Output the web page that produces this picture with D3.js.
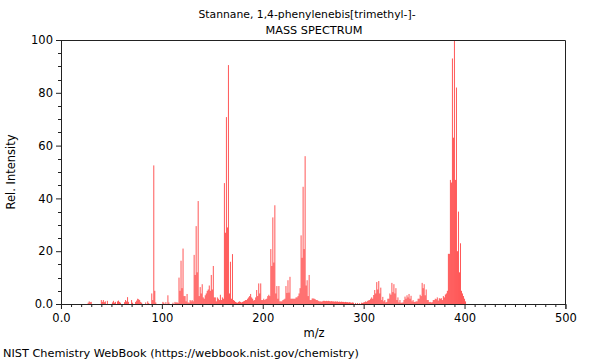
<!DOCTYPE html>
<html>
<head>
<meta charset="utf-8">
<script src="https://cdn.jsdelivr.net/npm/d3@7/dist/d3.min.js"></script>
<style>
  html, body { margin: 0; padding: 0; background: #fff; }
  svg { display: block; font-family: "DejaVu Sans", sans-serif; }
</style>
</head>
<body>
<svg id="chart" width="600" height="360"></svg>
<script>
const titleLines = ["Stannane, 1,4-phenylenebis[trimethyl-]-", "MASS SPECTRUM"];
const xLabel = "m/z";
const yLabel = "Rel. Intensity";
const footer = "NIST Chemistry WebBook (https://webbook.nist.gov/chemistry)";
const xTicks = [0, 100, 200, 300, 400, 500];
const xTickLabels = ["0.0", "100", "200", "300", "400", "500"];
const yTicks = [0, 20, 40, 60, 80, 100];
const yTickLabels = ["0.0", "20", "40", "60", "80", "100"];

const mz = [
  26, 27, 28, 29, 39, 40, 41, 42, 43, 45, 50, 51, 52, 53, 55, 56, 57, 58,
  62, 63, 64, 65, 66, 69, 70, 73, 74, 75, 76, 77, 78, 79, 83, 85, 86,
  89, 90, 91, 92, 93, 100, 101, 103, 105, 106, 110, 112, 113, 114,
  115, 116, 117, 118, 119, 120, 121, 122, 123, 124, 125, 126, 127, 128, 129, 130,
  131, 132, 133, 134, 135, 136, 137, 138, 139, 140,
  141, 142, 143, 144, 145, 146, 147, 148, 149, 150, 151, 152, 153, 154, 155, 156, 157, 158, 159, 160,
  161, 162, 163, 164, 165, 166, 167, 168, 169, 170, 171, 172, 173, 174, 175, 176, 177, 178, 179, 180,
  181, 182, 183, 184, 185, 186, 187, 188, 189, 190, 191, 192, 193, 194, 195, 196, 197, 198, 199, 200,
  201, 202, 203, 204, 205, 206, 207, 208, 209, 210, 211, 212, 213, 214, 215, 216, 217, 218, 219, 220,
  221, 222, 223, 224, 225, 226, 227, 228, 229, 230, 231, 232, 233, 234, 235, 236,
  237, 238, 239, 240, 241, 242, 243, 244, 245, 246, 247, 248, 249, 250, 251, 252, 253, 254,
  255, 256, 257, 258, 259, 260, 261, 262, 263, 264, 265, 266, 267, 268, 269, 270,
  271, 272, 273, 274, 275, 276, 277, 278, 279, 280, 281, 282, 283, 284, 285, 286, 287, 288, 289,
  291, 293, 295, 297, 298, 299, 300, 301, 302, 303, 304, 305, 306, 307,
  308, 309, 310, 311, 312, 313, 314, 315, 316, 317, 318, 319, 320, 321, 322, 323, 324, 325,
  326, 327, 328, 329, 330, 331, 332, 333, 334, 335, 336, 337, 338, 339, 340, 341, 342, 343,
  344, 345, 346, 347, 348, 349, 350, 351, 352, 353, 354, 355, 356, 357, 358, 359, 360, 361,
  362, 363, 364, 365, 366, 367, 368, 369, 370, 371, 372, 373, 374, 375, 376, 377, 378, 379,
  380, 381, 382, 383, 384, 385, 386, 387, 388, 389, 390, 391, 392, 393, 394, 395, 396, 397,
  398, 399, 400
];
const intensity = [
  0.5, 1.0, 0.7, 0.8, 1.5, 0.8, 1.5, 0.7, 1.0, 1.2, 0.6, 1.2, 0.5, 0.8, 1.0, 1.3, 0.8, 0.5,
  0.7, 1.5, 1.0, 2.6, 0.8, 1.5, 0.5, 0.8, 1.3, 2.0, 1.8, 1.5, 0.8, 0.5, 0.6, 1.0, 0.4,
  4.0, 1.5, 52.5, 5.0, 0.6, 0.8, 0.5, 0.7, 3.3, 0.6, 0.5, 0.8, 0.5, 0.7,
  0.4, 10.0, 5.0, 16.4, 6.0, 21.0, 3.0, 3.0, 1.0, 3.8, 0.6, 0.5, 1.5, 1.0, 1.5, 1.0,
  18.6, 11.0, 29.5, 12.0, 39.0, 3.0, 6.4, 4.0, 7.5, 2.5,
  2.0, 3.3, 4.0, 5.0, 5.5, 7.0, 5.0, 11.0, 5.5, 14.4, 2.5, 2.5, 1.0, 2.5, 2.0, 1.5, 3.5, 1.5, 2.5, 2.0,
  45.8, 27.0, 70.8, 29.0, 90.5, 4.0, 16.0, 2.0, 18.9, 1.5, 1.2, 0.8, 0.6, 0.5, 0.8, 1.0, 0.8, 0.6, 0.8, 1.0,
  1.2, 1.5, 1.5, 2.0, 2.5, 3.0, 3.8, 2.5, 2.0, 1.3, 1.5, 2.5, 5.3, 3.0, 7.8, 4.0, 7.8, 1.5, 1.5, 2.0,
  1.5, 1.8, 2.0, 3.0, 3.5, 3.0, 20.8, 14.4, 32.8, 15.7, 37.4, 4.0, 6.8, 2.0, 6.8, 1.0, 1.0, 1.0, 1.5, 1.7,
  2.0, 6.8, 4.2, 9.0, 4.3, 10.3, 2.0, 2.0, 2.0, 2.0, 2.0, 2.5, 2.5, 3.0, 4.0, 6.0,
  26.0, 17.5, 44.4, 20.8, 56.0, 7.0, 9.0, 3.0, 11.0, 1.5, 1.5, 2.1, 2.1, 2.0, 1.8, 1.5, 1.5, 1.2,
  1.0, 1.0, 0.9, 1.0, 1.2, 1.2, 1.1, 1.2, 1.1, 1.2, 1.1, 1.0, 1.1, 1.0, 1.0, 0.9,
  1.0, 0.9, 1.0, 0.8, 0.9, 0.8, 0.9, 0.8, 0.8, 0.7, 0.8, 0.7, 0.7, 0.6, 0.7, 0.6, 0.5, 0.6, 0.5,
  0.4, 0.4, 0.3, 0.5, 0.4, 0.6, 0.7, 1.0, 0.8, 1.2, 1.4, 1.5, 2.0, 2.5,
  2.0, 3.4, 5.3, 4.0, 8.3, 5.5, 8.7, 4.0, 6.2, 1.5, 2.7, 1.0, 1.5, 0.6, 0.8, 2.0, 2.0, 4.0,
  3.5, 8.0, 4.5, 7.5, 4.0, 6.0, 1.5, 2.5, 0.6, 1.5, 0.5, 0.5, 0.6, 1.5, 2.8, 2.0, 3.3, 2.5,
  3.8, 2.0, 3.1, 1.0, 1.5, 0.8, 0.8, 1.0, 1.0, 2.0, 2.0, 3.5, 3.0, 8.0, 6.0, 7.5, 3.3, 5.5,
  1.5, 1.5, 0.7, 0.8, 0.6, 0.7, 1.5, 1.5, 2.0, 1.8, 2.5, 1.3, 2.2, 2.0, 2.2, 1.5, 3.0, 2.5,
  3.6, 4.0, 5.0, 19.0, 19.0, 47.0, 46.0, 93.0, 63.0, 100.0, 47.0, 82.0, 20.0, 35.0, 12.0, 23.0, 5.0, 4.0,
  3.0, 2.0, 1.0
];

const W = 600, H = 360;
const margin = { left: 61.47, right: 600 - 565.93, top: 40, bottom: 360 - 304 };
const svg = d3.select("#chart");

const x = d3.scaleLinear().domain([0, 500]).range([margin.left, W - margin.right]);
const y = d3.scaleLinear().domain([0, 100]).range([H - margin.bottom, margin.top]);

const peaks = mz.map((m, i) => ({ m, v: intensity[i] }));

// peaks
svg.append("g")
  .selectAll("rect")
  .data(peaks)
  .join("rect")
  .attr("x", d => x(d.m))
  .attr("width", 1)
  .attr("y", d => y(d.v))
  .attr("height", d => y(0) - y(d.v))
  .attr("fill", "#ff0000")
  .attr("fill-opacity", 0.66);

// frame top and right
const x0 = Math.round(x(0)) + 0.5 - 1, x1 = Math.round(x(500)) + 0.5 - 1;
const yTop = Math.round(y(100)) + 0.5, yBot = Math.round(y(0)) + 0.5;
svg.append("path")
  .attr("d", `M${x0},${yTop}H${x1}V${yBot}`)
  .attr("fill", "none").attr("stroke", "#222").attr("stroke-width", 1);

// axes
const xAxisMajor = d3.axisBottom(x).tickValues(xTicks).tickSize(5)
  .tickFormat((d, i) => xTickLabels[i]);
const xMinor = d3.range(0, 501, 10).filter(v => v % 100 !== 0);
const gx = svg.append("g").attr("transform", `translate(-0.5,${yBot - 0.5})`);
gx.call(xAxisMajor);
gx.selectAll(".tick text").attr("dy", "0.85em");
gx.append("g").selectAll("line").data(xMinor).join("line")
  .attr("x1", d => x(d) ).attr("x2", d => x(d)).attr("y1", 0).attr("y2", 3)
  .attr("stroke", "#222").attr("transform", "translate(0.5,0)");

const yAxisMajor = d3.axisLeft(y).tickValues(yTicks).tickSize(5)
  .tickFormat((d, i) => yTickLabels[i]);
const yMinor = d3.range(0, 101, 5).filter(v => v % 20 !== 0);
const gy = svg.append("g").attr("transform", `translate(${x0 + 0.5},0)`);
gy.call(yAxisMajor);
gy.append("g").selectAll("line").data(yMinor).join("line")
  .attr("x1", -3).attr("x2", 0)
  .attr("y1", d => Math.round(y(d)) + 0.5).attr("y2", d => Math.round(y(d)) + 0.5)
  .attr("stroke", "#222");

svg.selectAll(".domain").attr("stroke", "#222");
svg.selectAll(".tick line").attr("stroke", "#222");
svg.selectAll(".tick text").attr("font-size", 11.5).attr("fill", "#000")
  .attr("font-family", "DejaVu Sans, sans-serif");

// titles
svg.append("text").attr("x", 307).attr("y", 18).attr("text-anchor", "middle")
  .attr("font-size", 10.8).text(titleLines[0]);
svg.append("text").attr("x", 314).attr("y", 34).attr("text-anchor", "middle")
  .attr("font-size", 11.3).text(titleLines[1]);

svg.append("text").attr("x", 314).attr("y", 337).attr("text-anchor", "middle")
  .attr("font-size", 11.5).text(xLabel);
svg.append("text").attr("transform", "translate(15,172) rotate(-90)")
  .attr("text-anchor", "middle").attr("font-size", 11.5).text(yLabel);
svg.append("text").attr("x", 3).attr("y", 357).attr("font-size", 11.3).text(footer);
</script>
</body>
</html>
